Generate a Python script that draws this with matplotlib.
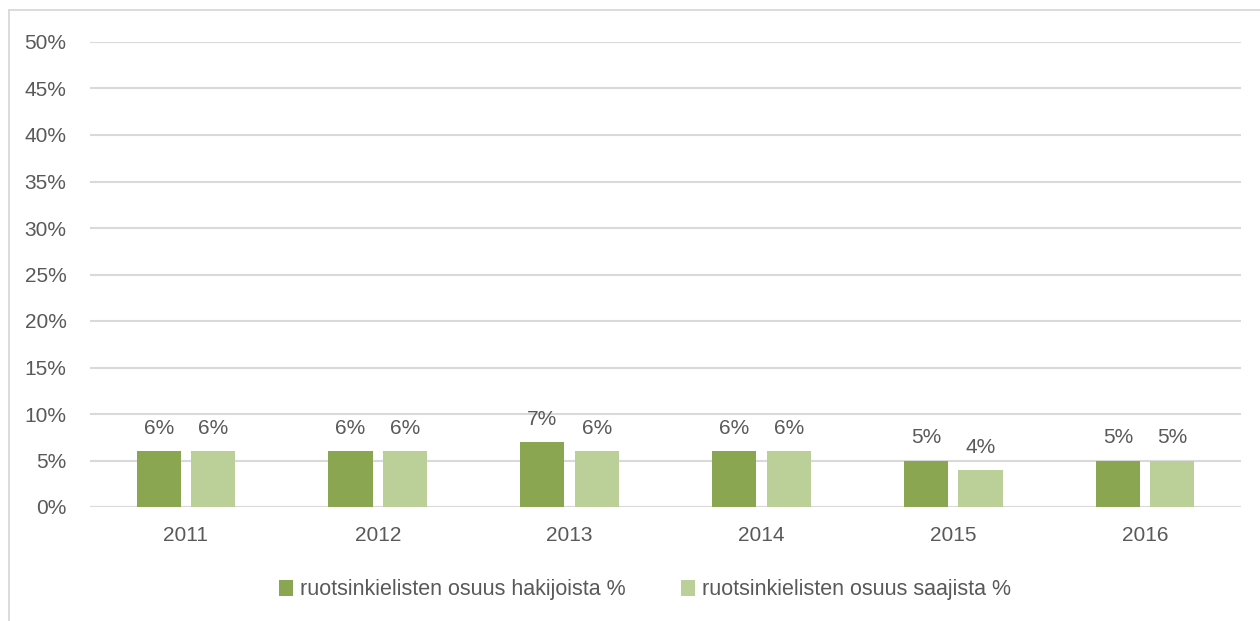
import matplotlib.pyplot as plt
import numpy as np
from matplotlib.lines import Line2D

plt.rcParams['font.family'] = ['Liberation Sans', 'DejaVu Sans']

years = ['2011', '2012', '2013', '2014', '2015', '2016']
hakijat = [6, 6, 7, 6, 5, 5]
saajat = [6, 6, 6, 6, 4, 5]
labels = ['ruotsinkielisten osuus hakijoista %', 'ruotsinkielisten osuus saajista %']

dark = '#8aa650'
light = '#bbcf99'
text_col = '#595959'
grid_col = '#d9d9d9'

fig = plt.figure(figsize=(12.6, 6.21), dpi=100)
ax = fig.add_axes([90 / 1260, 1 - 507 / 621, (1241 - 90) / 1260, (507 - 42) / 621])

x = np.arange(len(years))
w = 0.23
b1 = ax.bar(x - 0.142, hakijat, w, color=dark, label=labels[0], zorder=3)
b2 = ax.bar(x + 0.142, saajat, w, color=light, label=labels[1], zorder=3)

for bars in (b1, b2):
    for r in bars:
        ax.text(r.get_x() + r.get_width() / 2, r.get_height() + 1.4, f'{r.get_height():.0f}%',
                ha='center', va='bottom', fontsize=15, color=text_col)

ax.set_xlim(-0.5, len(years) - 0.5)
ax.set_ylim(0, 50)
ax.set_yticks(range(0, 51, 5))
ax.set_yticklabels([f'{v}%' for v in range(0, 51, 5)])
ax.set_xticks(x)
ax.set_xticklabels(years)
ax.tick_params(length=0, labelsize=15, labelcolor=text_col)
ax.tick_params(axis='y', pad=17)
ax.tick_params(axis='x', pad=14)
ax.grid(axis='y', color=grid_col, linewidth=1.5, zorder=0)
for s in ax.spines.values():
    s.set_visible(False)
ax.axhline(0, color=grid_col, linewidth=1.5, zorder=2)

ax.legend(loc='center', bbox_to_anchor=(645 / 1260, 1 - 590 / 621), bbox_transform=fig.transFigure,
          ncol=2, frameon=False, fontsize=15.5, labelcolor=text_col, handlelength=0.65,
          handleheight=0.7, handletextpad=0.3, columnspacing=2.6)

# chart border (cropped on right and bottom)
fig.add_artist(Line2D([9 / 1260, 1], [1 - 10 / 621, 1 - 10 / 621], transform=fig.transFigure,
                      color=grid_col, linewidth=1.3))
fig.add_artist(Line2D([9 / 1260, 9 / 1260], [0, 1 - 10 / 621], transform=fig.transFigure,
                      color=grid_col, linewidth=1.3))

fig.savefig('out.png', dpi=100)
